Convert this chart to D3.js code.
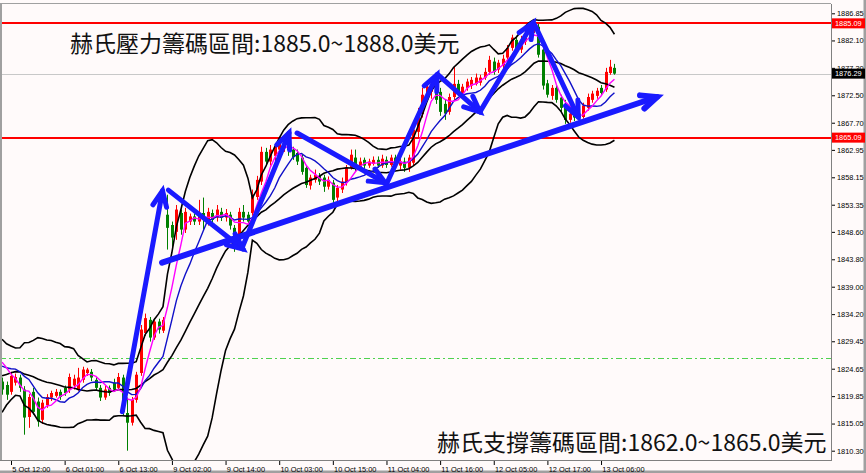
<!DOCTYPE html>
<html>
<head>
<meta charset="utf-8">
<script src="https://cdn.jsdelivr.net/npm/d3@7"></script>
<style>
  body { margin: 0; background: #fff; }
  svg text { font-family: "Liberation Sans", Arial, sans-serif; }
</style>
</head>
<body>
<div id="chart"></div>
<script>
var width = 866, height = 473;
var plotL = 0, plotR = 831, plotT = 4, plotB = 460;

// closes before the first visible bar, only used so the indicators start where the picture shows them
const priorCloses = [1815, 1818, 1819, 1822, 1824, 1824, 1822, 1823, 1825, 1825,
  1823, 1825, 1824, 1826, 1824, 1825, 1829, 1827, 1827];

// H1 bars, 5 Oct 10:00 .. 13 Oct 09:00
const open = [1822.4,1821.8,1820.6,1822.2,1823.1,1821.0,1816.2,1820.6,1818.9,1815.7,
  1818.3,1819.6,1819.9,1820.6,1821.3,1821.0,1821.7,1821.1,1822.7,1823.9,
  1824.1,1822.7,1821.3,1819.6,1821.3,1822.2,1821.3,1823.1,1816.9,1815.2,
  1819.2,1823.9,1830.9,1833.2,1830.1,1832.9,1831.3,1851.6,1849.8,1848.6,
  1851.9,1849.0,1850.4,1851.3,1850.4,1851.9,1850.4,1851.9,1851.1,1852.1,
  1851.1,1851.6,1849.3,1846.2,1852.1,1851.6,1851.9,1854.7,1857.4,1862.6,
  1860.9,1861.9,1863.0,1863.7,1864.2,1863.0,1862.4,1861.6,1859.8,1856.7,
  1857.7,1858.4,1858.1,1856.5,1857.2,1854.6,1856.0,1857.2,1859.8,1861.6,
  1859.8,1861.2,1860.2,1860.5,1861.2,1860.2,1861.2,1860.3,1861.6,1860.2,
  1860.9,1859.8,1860.7,1866.1,1869.2,1872.2,1873.1,1874.3,1873.1,1871.0,
  1869.6,1872.2,1874.5,1872.9,1873.8,1874.2,1874.5,1874.7,1875.6,1876.6,
  1878.4,1877.0,1877.7,1879.1,1880.8,1882.2,1880.5,1881.9,1883.1,1884.0,
  1884.5,1880.5,1874.6,1872.4,1873.8,1872.1,1871.0,1868.2,1869.6,1869.3,
  1868.7,1870.3,1871.7,1872.4,1873.8,1873.5,1876.4,1877.3];
const high = [1823.1,1822.4,1824.1,1823.8,1823.6,1821.6,1820.2,1821.3,1819.6,1819.2,
  1820.2,1820.8,1821.1,1821.0,1821.7,1823.8,1823.6,1824.8,1825.0,1824.8,
  1824.6,1823.2,1821.8,1821.7,1821.7,1822.9,1823.9,1823.6,1819.6,1819.7,
  1824.1,1832.3,1834.3,1833.7,1833.5,1833.4,1833.7,1855.1,1850.4,1853.3,
  1852.5,1852.8,1851.8,1851.8,1854.2,1854.6,1852.8,1852.5,1853.3,1852.8,
  1852.6,1852.1,1849.8,1852.8,1853.3,1852.1,1856.0,1858.4,1863.5,1863.3,
  1863.8,1864.0,1864.7,1865.1,1865.1,1863.5,1863.0,1862.1,1860.3,1858.6,
  1859.5,1858.9,1858.6,1858.3,1857.7,1856.8,1858.1,1860.3,1863.0,1863.0,
  1861.6,1861.6,1861.4,1861.8,1861.8,1862.1,1861.8,1862.1,1862.1,1861.6,
  1861.6,1862.1,1867.0,1870.3,1873.8,1874.9,1875.2,1874.9,1873.8,1871.7,
  1872.8,1877.5,1875.2,1874.5,1875.4,1875.7,1876.3,1876.1,1877.3,1879.4,
  1879.1,1878.7,1879.6,1881.3,1883.1,1882.9,1882.9,1884.1,1884.8,1885.3,
  1885.0,1881.3,1875.2,1874.3,1874.3,1872.6,1871.7,1870.0,1870.3,1870.0,
  1871.2,1872.8,1873.3,1873.8,1874.3,1877.3,1878.7,1878.0];
const low = [1820.1,1819.2,1820.1,1821.7,1820.6,1813.1,1814.3,1816.6,1814.5,1815.0,
  1817.8,1819.0,1819.6,1819.2,1819.9,1820.4,1821.0,1820.8,1822.2,1823.4,
  1822.5,1820.8,1819.0,1819.2,1819.9,1820.6,1821.0,1816.4,1810.3,1814.7,
  1818.7,1823.4,1830.4,1829.4,1829.7,1830.8,1830.9,1845.5,1845.5,1847.2,
  1848.1,1848.4,1849.8,1849.8,1849.8,1849.0,1849.7,1850.0,1850.4,1850.5,
  1850.4,1849.0,1845.1,1845.5,1850.4,1849.7,1851.4,1854.2,1856.8,1860.2,
  1860.2,1859.8,1862.4,1862.6,1861.9,1861.2,1860.3,1858.6,1856.3,1856.0,
  1857.2,1856.8,1855.6,1856.0,1853.3,1853.9,1855.4,1856.7,1859.5,1859.1,
  1859.5,1859.6,1859.8,1860.2,1859.8,1859.8,1859.8,1860.0,1859.8,1859.5,
  1859.1,1859.1,1860.2,1865.1,1868.6,1871.7,1871.9,1871.0,1868.9,1868.2,
  1869.1,1871.7,1872.4,1872.4,1873.3,1873.6,1874.2,1874.2,1875.2,1876.1,
  1876.1,1876.4,1877.1,1878.5,1880.3,1879.9,1879.9,1881.3,1882.6,1883.4,
  1879.1,1873.5,1872.1,1871.7,1871.2,1869.6,1867.5,1867.7,1868.0,1867.9,
  1868.4,1869.8,1871.2,1871.9,1872.4,1873.1,1876.1,1876.1];
const close = [1821.0,1820.1,1823.4,1823.2,1821.3,1816.1,1819.7,1817.1,1815.4,1818.7,
  1819.7,1820.4,1820.6,1819.7,1820.4,1823.2,1822.9,1823.1,1824.5,1824.5,
  1823.1,1821.3,1819.6,1821.0,1820.4,1821.0,1823.2,1817.1,1815.2,1819.2,
  1823.6,1831.5,1833.5,1830.1,1832.9,1831.5,1833.2,1849.3,1847.6,1852.5,
  1849.0,1852.1,1851.3,1850.4,1851.4,1850.7,1852.1,1850.7,1852.5,1851.1,
  1851.9,1849.7,1846.3,1852.1,1851.1,1850.4,1855.1,1857.7,1862.6,1860.9,
  1863.0,1863.5,1864.0,1864.4,1863.0,1861.7,1860.9,1859.1,1856.8,1858.1,
  1858.6,1857.4,1856.5,1857.7,1854.2,1856.3,1857.4,1859.8,1862.1,1859.8,
  1860.9,1860.2,1860.9,1861.2,1860.2,1861.4,1860.3,1861.6,1860.3,1860.9,
  1859.8,1861.6,1866.5,1869.6,1872.6,1874.0,1874.5,1871.7,1869.6,1869.3,
  1872.2,1874.5,1872.9,1874.0,1874.9,1875.2,1875.6,1875.6,1876.6,1878.7,
  1876.6,1878.2,1878.9,1880.8,1882.6,1880.5,1882.2,1883.4,1884.3,1884.8,
  1879.6,1874.2,1872.6,1873.8,1871.7,1870.3,1868.2,1869.3,1868.6,1868.6,
  1870.7,1872.2,1872.8,1873.3,1872.9,1876.6,1877.5,1876.29];

const xTickIdx = [2, 14, 26, 38, 50, 62, 74, 86, 98, 110, 122, 134];
const xTickLabels = ["5 Oct 12:00", "6 Oct 01:00", "6 Oct 13:00", "9 Oct 02:00", "9 Oct 14:00",
  "10 Oct 03:00", "10 Oct 15:00", "11 Oct 04:00", "11 Oct 16:00", "12 Oct 05:00",
  "12 Oct 17:00", "13 Oct 06:00"];
const yTicks = [1886.85, 1882.10, 1877.30, 1872.50, 1867.70, 1862.95, 1858.15, 1853.35,
  1848.60, 1843.80, 1839.00, 1834.20, 1829.45, 1824.65, 1819.85, 1815.05, 1810.30];

const levels = [1885.09, 1865.09];
const lastPrice = 1876.29;
const alertPrice = 1826.6;

// arrows: [bar from, price from, bar to, price to]
const arrows = [
  [26.9, 1817.1, 35.9, 1855.8],
  [37.2, 1855.9, 53.9, 1845.6],
  [53.7, 1845.8, 64.2, 1865.9],
  [66.0, 1865.9, 85.7, 1857.2],
  [85.9, 1856.8, 97.3, 1876.1],
  [97.5, 1876.1, 106.9, 1869.6],
  [106.9, 1869.6, 118.8, 1885.2],
  [119.2, 1884.8, 128.9, 1868.7]
];
const trendArrow = [35.8, 1843.2, 146.5, 1872.2];

const titleTop = "赫氏壓力籌碼區間:1885.0~1888.0美元";
const titleBottom = "赫氏支撐籌碼區間:1862.0~1865.0美元";

var svg = d3.select('#chart')
  .append('svg')
  .attr('width', width)
  .attr('height', height);

svg.append('rect').attr('width', width).attr('height', height).attr('fill', '#fffafa');

var xScale = d3.scaleLinear()
  .domain([0, close.length - 1])
  .range([2.06, 2.06 + (close.length - 1) * 4.47]);

var yScale = d3.scaleLinear()
  .domain([1810.30, 1886.85])
  .range([450.7, 13.3]);

function snap(v) { return Math.round(v) + 0.5; }

svg.append('clipPath').attr('id', 'plot')
  .append('rect')
  .attr('x', plotL).attr('y', plotT)
  .attr('width', plotR - plotL).attr('height', plotB - plotT);

var g = svg.append('g').attr('clip-path', 'url(#plot)');

// horizontal levels
g.append('line')
  .attr('x1', plotL).attr('x2', plotR)
  .attr('y1', snap(yScale(alertPrice))).attr('y2', snap(yScale(alertPrice)))
  .attr('stroke', '#4fd24f').attr('stroke-width', 1)
  .attr('stroke-dasharray', '6,3,2,3');

g.append('line')
  .attr('x1', plotL).attr('x2', plotR)
  .attr('y1', snap(yScale(lastPrice))).attr('y2', snap(yScale(lastPrice)))
  .attr('stroke', '#c8c8c8').attr('stroke-width', 1);

levels.forEach(function(lv) {
  g.append('line')
    .attr('x1', plotL).attr('x2', plotR)
    .attr('y1', Math.round(yScale(lv))).attr('y2', Math.round(yScale(lv)))
    .attr('stroke', '#ff0000').attr('stroke-width', 2);
});

// candles (red = up, green = down)
var bars = d3.range(close.length);

function colour(i) {
  return close[i] >= open[i] ? '#ff0000' : '#008000';
}

g.selectAll('.wick')
  .data(bars)
  .enter()
  .append('line')
  .attr('class', 'wick')
  .attr('x1', function(i){ return Math.round(xScale(i)) + 0.5; })
  .attr('x2', function(i){ return Math.round(xScale(i)) + 0.5; })
  .attr('y1', function(i){ return yScale(high[i]); })
  .attr('y2', function(i){ return yScale(low[i]); })
  .attr('stroke', colour)
  .attr('stroke-width', 1);

g.selectAll('.body')
  .data(bars)
  .enter()
  .append('rect')
  .attr('class', 'body')
  .attr('x', function(i){ return Math.round(xScale(i)) - 1; })
  .attr('width', 3)
  .attr('y', function(i){ return yScale(Math.max(open[i], close[i])); })
  .attr('height', function(i){
    return Math.max(1, yScale(Math.min(open[i], close[i])) - yScale(Math.max(open[i], close[i])));
  })
  .attr('fill', colour);

// indicators: SMA5, SMA10, Bollinger(20, 2)
var all = priorCloses.concat(close);
var off = priorCloses.length;

function sma(n) {
  return bars.map(function(i){
    var k = i + off;
    return d3.mean(all.slice(Math.max(0, k - n + 1), k + 1));
  });
}

function band(n, m) {
  var mid = sma(n);
  return bars.map(function(i){
    var k = i + off;
    var w = all.slice(Math.max(0, k - n + 1), k + 1);
    var sd = Math.sqrt(d3.mean(w, function(v){ return (v - mid[i]) * (v - mid[i]); }));
    return mid[i] + m * sd;
  });
}

var line = d3.line()
  .x(function(d, i){ return xScale(i); })
  .y(function(d){ return yScale(d); })
  .curve(d3.curveLinear);

[band(20, 2), sma(20), band(20, -2)].forEach(function(s) {
  g.append('path').attr('d', line(s))
    .attr('fill', 'none').attr('stroke', '#000').attr('stroke-width', 1.6);
});

g.append('path').attr('d', line(sma(10)))
  .attr('fill', 'none').attr('stroke', '#1010c8').attr('stroke-width', 1.4);

g.append('path').attr('d', line(sma(5)))
  .attr('fill', 'none').attr('stroke', '#ff00ff').attr('stroke-width', 1.4);

// blue arrows
function drawArrow(a, w) {
  var x1 = xScale(a[0]), y1 = yScale(a[1]);
  var x2 = xScale(a[2]), y2 = yScale(a[3]);
  var ang = Math.atan2(y1 - y2, x1 - x2);
  var len = 17, spread = 0.42;
  g.append('line')
    .attr('x1', x1).attr('y1', y1).attr('x2', x2).attr('y2', y2)
    .attr('stroke', '#1a1aff').attr('stroke-width', w).attr('stroke-linecap', 'round');
  var head = [
    [x2 + len * Math.cos(ang + spread), y2 + len * Math.sin(ang + spread)],
    [x2, y2],
    [x2 + len * Math.cos(ang - spread), y2 + len * Math.sin(ang - spread)]
  ];
  g.append('path').attr('d', d3.line()(head))
    .attr('fill', 'none').attr('stroke', '#1a1aff').attr('stroke-width', w)
    .attr('stroke-linecap', 'round').attr('stroke-linejoin', 'miter');
}

arrows.forEach(function(a){ drawArrow(a, 5); });
drawArrow(trendArrow, 6);

// frame
svg.append('rect').attr('x', 0).attr('y', plotT).attr('width', 2).attr('height', plotB - plotT)
  .attr('fill', '#a0a0a0');
svg.append('line').attr('x1', 0).attr('x2', plotR).attr('y1', plotT - 0.5).attr('y2', plotT - 0.5)
  .attr('stroke', '#a0a0a0');
svg.append('line').attr('x1', plotR + 0.5).attr('x2', plotR + 0.5).attr('y1', plotT).attr('y2', plotB)
  .attr('stroke', '#808080');
svg.append('line').attr('x1', 0).attr('x2', plotR + 1).attr('y1', plotB + 0.5).attr('y2', plotB + 0.5)
  .attr('stroke', '#808080');
svg.append('rect').attr('x', width - 2.5).attr('y', 0).attr('width', 2.5).attr('height', height)
  .attr('fill', '#a0a0a0');
svg.append('rect').attr('x', 0).attr('y', height - 2.5).attr('width', width).attr('height', 2.5)
  .attr('fill', '#a0a0a0');

// price axis
var yAxis = d3.axisRight(yScale)
  .tickValues(yTicks)
  .tickFormat(d3.format('.2f'))
  .tickSize(3)
  .tickPadding(2);

var yAxisG = svg.append('g')
  .attr('class', 'axis')
  .attr('transform', 'translate(' + (plotR + 1) + ',0)')
  .call(yAxis);
yAxisG.select('.domain').remove();
yAxisG.selectAll('text').attr('font-size', 7.4).attr('fill', '#000');
yAxisG.selectAll('line').attr('stroke', '#000');

// time axis
var xAxis = d3.axisBottom(xScale)
  .tickValues(xTickIdx)
  .tickFormat(function(d, i){ return xTickLabels[i]; })
  .tickSize(4)
  .tickPadding(2);

var xAxisG = svg.append('g')
  .attr('class', 'axis')
  .attr('transform', 'translate(0,' + (plotB + 1) + ')')
  .call(xAxis);
xAxisG.select('.domain').remove();
xAxisG.selectAll('text').attr('font-size', 7.4).attr('fill', '#000')
  .attr('text-anchor', 'start').attr('dx', '0.1em');
xAxisG.selectAll('line').attr('stroke', '#000');

// price tags on the axis
function tag(price, fill) {
  var yy = yScale(price);
  svg.append('rect')
    .attr('x', plotR + 1).attr('y', yy - 5)
    .attr('width', 33).attr('height', 10)
    .attr('fill', fill);
  svg.append('text')
    .attr('x', plotR + 4).attr('y', yy)
    .attr('dy', '0.34em')
    .attr('font-size', 7.4).attr('fill', '#fff')
    .text(d3.format('.2f')(price));
}
levels.forEach(function(lv){ tag(lv, '#ff0000'); });
tag(lastPrice, '#000');

// notes
svg.append('text')
  .attr('x', 70).attr('y', 52)
  .style('font-family', '"Noto Sans CJK TC", sans-serif')
  .attr('font-size', 23).attr('fill', '#111')
  .text(titleTop);

svg.append('text')
  .attr('x', 437).attr('y', 451)
  .style('font-family', '"Noto Sans CJK TC", sans-serif')
  .attr('font-size', 23).attr('fill', '#111')
  .text(titleBottom);
</script>
</body>
</html>
